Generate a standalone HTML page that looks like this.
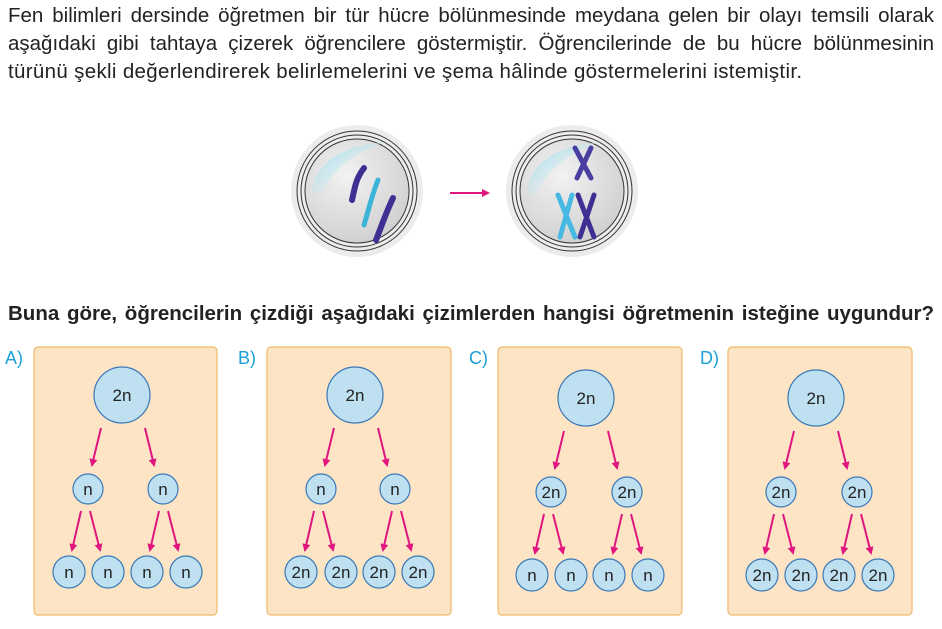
<!DOCTYPE html>
<html><head><meta charset="utf-8"><style>
html,body{margin:0;padding:0;background:#fff;width:942px;height:629px;overflow:hidden}
.t{position:absolute;left:8px;font-family:"Liberation Sans",sans-serif;font-size:20.5px;line-height:24px;color:#222;white-space:nowrap}
.j{width:926px;text-align:justify;text-align-last:justify;white-space:normal}
</style></head><body>
<div class="t j" style="top:4px">Fen bilimleri dersinde öğretmen bir tür hücre bölünmesinde meydana gelen bir olayı temsili olarak</div>
<div class="t j" style="top:32px">aşağıdaki gibi tahtaya çizerek öğrencilere göstermiştir. Öğrencilerinde de bu hücre bölünmesinin</div>
<div class="t" style="top:60px;letter-spacing:0.33px">türünü şekli değerlendirerek belirlemelerini ve şema hâlinde göstermelerini istemiştir.</div>
<div class="t j" style="top:302px;font-weight:bold">Buna göre, öğrencilerin çizdiği aşağıdaki çizimlerden hangisi öğretmenin isteğine uygundur?</div>
<svg width="942" height="629" style="position:absolute;left:0;top:0" font-family="Liberation Sans, sans-serif">
<defs>
<marker id="ah" markerWidth="8" markerHeight="8" refX="6" refY="4" orient="auto" markerUnits="userSpaceOnUse"><path d="M0,0 L8,4 L0,8 Z" fill="#e0157f"/></marker>
<radialGradient id="cg" cx="0.4" cy="0.35" r="0.7"><stop offset="0" stop-color="#f2f2f2"/><stop offset="1" stop-color="#cfcfcf"/></radialGradient>
<linearGradient id="hl" x1="0" y1="0" x2="1" y2="1"><stop offset="0" stop-color="#8fd8ea" stop-opacity="0.9"/><stop offset="0.6" stop-color="#cdeef6" stop-opacity="0.3"/><stop offset="1" stop-color="#fff" stop-opacity="0"/></linearGradient>
</defs>
<g>
<circle cx="357" cy="191" r="66" fill="#ececec"/>
<circle cx="357" cy="191" r="60" fill="none" stroke="#333" stroke-width="1"/>
<circle cx="357" cy="191" r="56" fill="none" stroke="#333" stroke-width="1"/>
<circle cx="357" cy="191" r="52" fill="url(#cg)" stroke="#333" stroke-width="1"/>
<path d="M312,190 C318,160 345,145 385,142 C360,150 335,165 320,195 Z" fill="url(#hl)"/>
<path d="M364,168 C355,180 355,188 352,200" stroke="#3f2f92" stroke-width="6" fill="none" stroke-linecap="round"/>
<path d="M378,180 C372,195 370,205 364,225" stroke="#3cb4d8" stroke-width="5" fill="none" stroke-linecap="round"/>
<path d="M393,198 C385,215 382,225 376,240" stroke="#3f2f92" stroke-width="6" fill="none" stroke-linecap="round"/>
</g>
<line x1="450" y1="193" x2="488" y2="193" stroke="#e0157f" stroke-width="2" marker-end="url(#ah)"/>
<g>
<circle cx="572" cy="191" r="66" fill="#ececec"/>
<circle cx="572" cy="191" r="60" fill="none" stroke="#333" stroke-width="1"/>
<circle cx="572" cy="191" r="56" fill="none" stroke="#333" stroke-width="1"/>
<circle cx="572" cy="191" r="52" fill="url(#cg)" stroke="#333" stroke-width="1"/>
<path d="M527,190 C533,160 560,145 600,142 C575,150 550,165 535,195 Z" fill="url(#hl)"/>
<path d="M575,148 L591,178 M591,148 L577,178" stroke="#4a3fa0" stroke-width="5" stroke-linecap="round"/>
<path d="M558,195 L575,237 M572,195 L560,237" stroke="#48b9e2" stroke-width="5" stroke-linecap="round"/>
<path d="M578,195 L594,237 M594,195 L580,237" stroke="#3f2f92" stroke-width="5" stroke-linecap="round"/>
</g>
<g font-size="18" fill="#1ba0d8">
<text x="5" y="364">A)</text><text x="238" y="364">B)</text><text x="469" y="364">C)</text><text x="700" y="364">D)</text>
</g>
<rect x="34" y="347" width="183" height="268" rx="4" fill="#fce4c4" stroke="#f0b96a" stroke-width="1.2"/>
<rect x="267" y="347" width="184" height="268" rx="4" fill="#fce4c4" stroke="#f0b96a" stroke-width="1.2"/>
<rect x="498" y="347" width="184" height="268" rx="4" fill="#fce4c4" stroke="#f0b96a" stroke-width="1.2"/>
<rect x="728" y="347" width="184" height="268" rx="4" fill="#fce4c4" stroke="#f0b96a" stroke-width="1.2"/>
<g stroke="#e0157f" stroke-width="2" marker-end="url(#ah)">
<line x1="101" y1="428" x2="92" y2="465"/><line x1="145" y1="428" x2="154" y2="465"/>
<line x1="81" y1="511" x2="72" y2="550"/><line x1="90" y1="511" x2="100" y2="550"/>
<line x1="159" y1="511" x2="150" y2="550"/><line x1="168" y1="511" x2="178" y2="550"/>
<line x1="334" y1="428" x2="325" y2="465"/><line x1="378" y1="428" x2="387" y2="465"/>
<line x1="314" y1="511" x2="305" y2="550"/><line x1="323" y1="511" x2="333" y2="550"/>
<line x1="392" y1="511" x2="383" y2="550"/><line x1="401" y1="511" x2="411" y2="550"/>
<line x1="564" y1="431" x2="555" y2="468"/><line x1="608" y1="431" x2="617" y2="468"/>
<line x1="544" y1="514" x2="535" y2="553"/><line x1="553" y1="514" x2="563" y2="553"/>
<line x1="622" y1="514" x2="613" y2="553"/><line x1="631" y1="514" x2="641" y2="553"/>
<line x1="794" y1="431" x2="785" y2="468"/><line x1="838" y1="431" x2="847" y2="468"/>
<line x1="774" y1="514" x2="765" y2="553"/><line x1="783" y1="514" x2="793" y2="553"/>
<line x1="852" y1="514" x2="843" y2="553"/><line x1="861" y1="514" x2="871" y2="553"/>
</g>
<g fill="#bfe0f0" stroke="#3a78b8" stroke-width="1.2">
<circle cx="122" cy="395" r="28"/><circle cx="88" cy="489" r="15"/><circle cx="163" cy="489" r="15"/>
<circle cx="69" cy="572" r="16"/><circle cx="108" cy="572" r="16"/><circle cx="147" cy="572" r="16"/><circle cx="186" cy="572" r="16"/>
<circle cx="355" cy="395" r="28"/><circle cx="321" cy="489" r="15"/><circle cx="395" cy="489" r="15"/>
<circle cx="301" cy="572" r="16"/><circle cx="341" cy="572" r="16"/><circle cx="379" cy="572" r="16"/><circle cx="418" cy="572" r="16"/>
<circle cx="586" cy="398" r="28"/><circle cx="551" cy="492" r="15"/><circle cx="627" cy="492" r="15"/>
<circle cx="532" cy="575" r="16"/><circle cx="571" cy="575" r="16"/><circle cx="609" cy="575" r="16"/><circle cx="648" cy="575" r="16"/>
<circle cx="816" cy="398" r="28"/><circle cx="781" cy="492" r="15"/><circle cx="857" cy="492" r="15"/>
<circle cx="762" cy="575" r="16"/><circle cx="801" cy="575" r="16"/><circle cx="839" cy="575" r="16"/><circle cx="878" cy="575" r="16"/>
</g>
<g font-size="17" fill="#222" text-anchor="middle">
<text x="122" y="401">2n</text><text x="88" y="495">n</text><text x="163" y="495">n</text>
<text x="69" y="578">n</text><text x="108" y="578">n</text><text x="147" y="578">n</text><text x="186" y="578">n</text>
<text x="355" y="401">2n</text><text x="321" y="495">n</text><text x="395" y="495">n</text>
<text x="301" y="578">2n</text><text x="341" y="578">2n</text><text x="379" y="578">2n</text><text x="418" y="578">2n</text>
<text x="586" y="404">2n</text><text x="551" y="498">2n</text><text x="627" y="498">2n</text>
<text x="532" y="581">n</text><text x="571" y="581">n</text><text x="609" y="581">n</text><text x="648" y="581">n</text>
<text x="816" y="404">2n</text><text x="781" y="498">2n</text><text x="857" y="498">2n</text>
<text x="762" y="581">2n</text><text x="801" y="581">2n</text><text x="839" y="581">2n</text><text x="878" y="581">2n</text>
</g>
</svg>
</body></html>
